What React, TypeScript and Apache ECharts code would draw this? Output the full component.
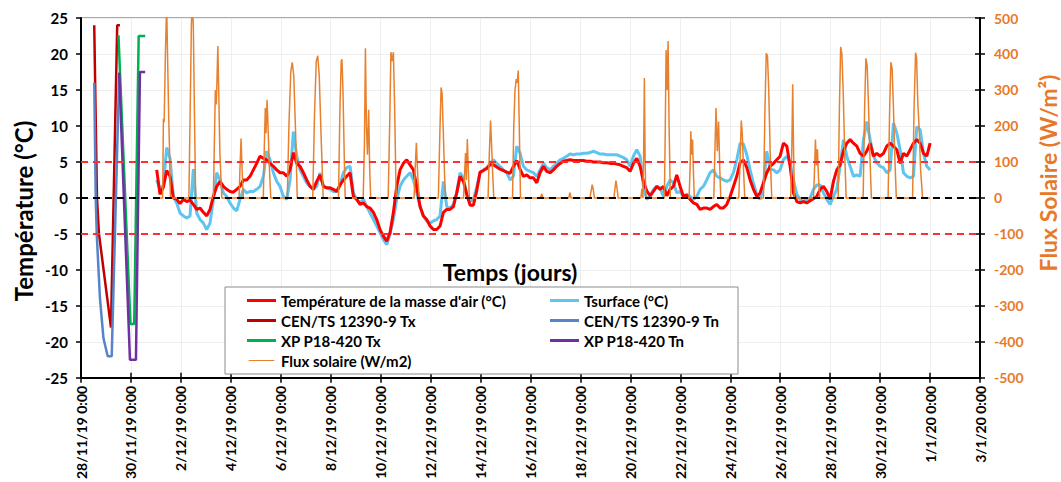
import React, { useEffect, useRef } from "react";
import * as echarts from "echarts";

// x values are days after 28/11/19 0:00
const X_TICK_LABELS = [
  "28/11/19 0:00", "30/11/19 0:00", "2/12/19 0:00", "4/12/19 0:00", "6/12/19 0:00",
  "8/12/19 0:00", "10/12/19 0:00", "12/12/19 0:00", "14/12/19 0:00", "16/12/19 0:00",
  "18/12/19 0:00", "20/12/19 0:00", "22/12/19 0:00", "24/12/19 0:00", "26/12/19 0:00",
  "28/12/19 0:00", "30/12/19 0:00", "1/1/20 0:00", "3/1/20 0:00",
];

const SERIES_NAMES = [
  "Température de la masse d'air (°C)",
  "Tsurface (°C)",
  "CEN/TS 12390-9 Tx",
  "CEN/TS 12390-9 Tn",
  "XP P18-420 Tx",
  "XP P18-420 Tn",
  "Flux solaire (W/m2)",
];

// measured temperatures: first reading at T_START (days), one reading every T_STEP days
const T_START = 3.031;
const T_STEP = 0.1335;

const AIR_TEMP = [
  3.9, 0.5, 1.5, 3.8, 3.0, 0.0, -0.2, -0.8, -0.2, -0.5,
  -0.3, -0.9, -1.6, -1.4, -2.0, -2.5, -1.6, 0.2, 1.6, 2.3,
  1.6, 1.2, 0.9, 0.8, 1.2, 1.6, 2.5, 2.5, 3.0, 3.9,
  4.8, 5.8, 5.5, 5.3, 4.8, 4.4, 3.9, 3.5, 3.5, 3.0,
  3.9, 6.3, 4.8, 4.4, 3.5, 2.5, 1.6, 1.2, 2.3, 3.2,
  1.6, 1.4, 1.4, 1.2, 0.9, 1.8, 2.5, 3.0, 3.5, 0.2,
  -0.2, -0.9, -0.7, -1.2, -1.4, -2.0, -3.0, -4.4, -5.3, -6.0,
  -4.8, -2.0, 1.6, 3.9, 4.8, 5.3, 4.6, 3.9, 1.6, -1.2,
  -2.5, -3.0, -3.9, -4.4, -4.4, -3.9, -2.0, -1.6, -1.6, -1.2,
  0.7, 3.0, 2.3, 0.5, -1.0, -1.0, 1.0, 3.6, 3.8, 4.1,
  4.6, 4.6, 4.3, 4.0, 3.8, 3.6, 3.4, 4.4, 5.2, 4.0,
  3.0, 3.2, 2.8, 2.8, 2.1, 3.5, 4.4, 3.7, 3.5, 3.9,
  4.4, 4.8, 5.1, 5.2, 5.3, 5.2, 5.2, 5.2, 5.2, 5.1,
  5.1, 5.0, 5.0, 5.0, 4.9, 4.9, 4.8, 4.8, 4.7, 4.6,
  4.4, 4.2, 3.7, 4.8, 5.5, 4.4, 2.3, 1.0, 0.3, 0.9,
  1.6, 1.2, 1.6, 0.3, 1.2, 1.6, 3.2, 1.6, 0.2, 0.4,
  -0.2, -0.7, -0.9, -1.6, -1.4, -1.4, -1.6, -1.2, -0.9, -1.4,
  -1.4, -0.9, 0.2, 1.6, 3.0, 4.9, 5.3, 4.2, 2.5, 1.2,
  0.2, 0.7, 2.1, 3.5, 4.4, 4.8, 5.3, 5.8, 7.6, 7.2,
  4.4, 0.7, -0.5, -0.7, -0.5, -0.7, -0.4, -0.1, 0.2, 1.2,
  1.6, 0.9, -0.2, 2.3, 3.9, 4.6, 6.5, 7.6, 8.1, 7.6,
  7.2, 6.2, 5.8, 6.5, 7.6, 5.8, 6.2, 5.8, 6.2, 7.2,
  7.6, 7.2, 6.7, 4.8, 6.2, 5.8, 6.7, 7.6, 8.1, 7.6,
  6.2, 5.8, 7.6,
];

const SURFACE_TEMP = [
  2.5, 1.2, 1.8, 7.0, 5.5, 0.2, -0.7, -2.1, -2.5, -2.8,
  -2.5, 4.0, -2.1, -3.0, -3.5, -4.4, -3.5, -0.2, 3.5, 2.5,
  0.7, 0.2, -0.7, -1.4, -1.8, -0.2, 1.2, 0.7, 0.9, 0.9,
  1.2, 1.6, 3.0, 6.5, 5.3, 3.5, 2.3, 1.6, 0.2, -0.2,
  2.5, 9.2, 5.8, 3.9, 3.0, 2.1, 1.6, 1.2, 1.6, 3.5,
  1.6, 1.4, 1.2, 0.9, 0.9, 1.8, 3.5, 4.2, 4.4, 0.7,
  -0.2, -0.7, -0.2, -1.2, -2.1, -3.0, -3.9, -4.8, -5.8, -6.5,
  -5.0, -3.0, -0.2, 1.6, 2.5, 3.0, 3.5, 2.5, 0.7, -1.2,
  -2.5, -3.2, -3.5, -3.2, -3.0, -2.5, 2.3, -1.2, -1.4, -0.9,
  0.7, 3.5, 2.8, 0.5, -0.5, -0.2, 1.5, 3.5, 3.9, 4.2,
  4.8, 5.3, 4.8, 4.4, 3.9, 3.5, 2.5, 3.0, 7.2, 6.2,
  4.4, 3.9, 3.7, 3.5, 3.0, 3.9, 4.8, 4.2, 3.9, 4.4,
  4.8, 5.3, 5.5, 5.8, 6.1, 6.0, 6.1, 6.1, 6.2, 6.2,
  6.3, 6.5, 6.3, 6.1, 6.1, 6.0, 6.0, 6.0, 6.0, 5.8,
  5.6, 5.3, 4.4, 5.8, 6.7, 5.8, 1.6, -0.2, 0.2, 1.2,
  1.6, 1.4, 0.2, 1.6, 2.5, 2.1, 0.7, 0.9, 0.2, 0.5,
  0.2, -0.2, 0.2, 1.2, 1.6, 2.5, 3.5, 3.9, 3.0, 2.8,
  2.5, 2.3, 2.5, 3.5, 5.3, 7.6, 7.5, 6.0, 3.9, 2.0,
  0.5, -0.2, 1.6, 6.5, 4.0, 3.9, 3.5, 3.9, 5.3, 5.8,
  4.9, 2.5, 0.5, -0.2, -0.5, -0.2, 0.0, 1.2, 1.8, 1.8,
  0.7, -0.2, -0.9, 0.2, 1.2, 4.4, 8.1, 5.8, 4.4, 3.0,
  3.2, 3.0, 8.1, 10.6, 8.1, 5.8, 4.9, 4.4, 4.2, 3.5,
  3.9, 10.4, 9.0, 6.7, 3.5, 3.0, 2.8, 3.0, 9.9, 9.5,
  6.2, 4.4, 3.9,
];

// test cycles: [day, °C]
const CEN_TX = [[0.53, 24], [0.64, 0], [0.72, -5], [1.09, -15], [1.2, -18], [1.45, 24], [1.56, 24]];
const CEN_TN = [[0.53, 16], [0.59, 0], [0.63, -5], [0.76, -14], [0.9, -19.5], [1.07, -22], [1.23, -22], [1.53, 17.4]];
const XP_TX = [[1.5, 22.6], [1.98, -17.5], [2.13, -17.5], [2.31, 22.5], [2.57, 22.5]];
const XP_TN = [[1.53, 17.4], [1.96, -22.5], [2.2, -22.5], [2.36, 17.5], [2.57, 17.5]];

// solar flux: [day, W/m2]
const FLUX = [
  [3.03, 0],
  [3.27, 0], [3.3, 220], [3.33, 210], [3.38, 400], [3.43, 540], [3.47, 380], [3.51, 230], [3.54, 150], [3.58, 0],
  [4.32, 0], [4.38, 280], [4.42, 480], [4.46, 560], [4.5, 470], [4.54, 250], [4.59, 0],
  [5.3, 0], [5.34, 150], [5.38, 300], [5.42, 260], [5.48, 422], [5.52, 280], [5.56, 130], [5.6, 60], [5.64, 0],
  [6.33, 0], [6.37, 90], [6.41, 165], [6.45, 80], [6.5, 0],
  [7.3, 0], [7.34, 140], [7.38, 250], [7.41, 180], [7.45, 273], [7.49, 200], [7.54, 90], [7.6, 0],
  [8.26, 0], [8.33, 210], [8.4, 350], [8.46, 377], [8.52, 340], [8.59, 190], [8.66, 0],
  [9.28, 0], [9.35, 230], [9.42, 380], [9.48, 395], [9.54, 340], [9.62, 160], [9.7, 0],
  [10.31, 0], [10.37, 250], [10.42, 380], [10.45, 385], [10.49, 300], [10.54, 120], [10.58, 0],
  [11.3, 0], [11.35, 150], [11.39, 416], [11.43, 200], [11.47, 120], [11.52, 245], [11.56, 80], [11.6, 0],
  [12.3, 0], [12.36, 200], [12.41, 405], [12.46, 380], [12.51, 405], [12.56, 250], [12.62, 0],
  [13.34, 0], [13.38, 80], [13.43, 153], [13.46, 100], [13.5, 40], [13.55, 0],
  [14.31, 0], [14.37, 180], [14.42, 307], [14.46, 290], [14.51, 180], [14.56, 60], [14.6, 0],
  [15.32, 0], [15.36, 70], [15.4, 125], [15.43, 50], [15.47, 164], [15.51, 80], [15.55, 0],
  [16.3, 0], [16.35, 120], [16.4, 215], [16.44, 150], [16.49, 60], [16.53, 0],
  [17.28, 0], [17.33, 200], [17.38, 300], [17.43, 330], [17.47, 320], [17.51, 354], [17.55, 200], [17.6, 0],
  [18.4, 0], [18.45, 12], [18.5, 0],
  [19.53, 0], [19.58, 15], [19.62, 0],
  [20.38, 0], [20.43, 20], [20.47, 37], [20.51, 25], [20.56, 0],
  [21.34, 0], [21.38, 25], [21.42, 48], [21.46, 30], [21.51, 0],
  [22.42, 0], [22.46, 25], [22.5, 0], [22.53, 120], [22.56, 333], [22.59, 100], [22.62, 0],
  [23.36, 0], [23.39, 150], [23.43, 411], [23.47, 300], [23.51, 436], [23.55, 200], [23.6, 0],
  [24.35, 0], [24.39, 80], [24.42, 185], [24.45, 120], [24.49, 162], [24.52, 80], [24.56, 0],
  [25.34, 0], [25.38, 120], [25.43, 250], [25.48, 130], [25.53, 212], [25.58, 80], [25.62, 0],
  [26.34, 0], [26.39, 100], [26.44, 215], [26.48, 180], [26.53, 80], [26.58, 0],
  [27.33, 0], [27.39, 250], [27.44, 402], [27.49, 395], [27.54, 300], [27.6, 120], [27.66, 0],
  [28.42, 0], [28.46, 120], [28.5, 316], [28.53, 150], [28.57, 0],
  [29.33, 0], [29.37, 70], [29.41, 162], [29.45, 90], [29.49, 135], [29.53, 60], [29.58, 0],
  [30.32, 0], [30.37, 250], [30.42, 420], [30.47, 400], [30.52, 300], [30.58, 130], [30.64, 0],
  [31.32, 0], [31.38, 250], [31.43, 388], [31.48, 370], [31.53, 270], [31.59, 120], [31.65, 0],
  [32.32, 0], [32.38, 240], [32.43, 377], [32.48, 360], [32.53, 260], [32.59, 110], [32.65, 0],
  [33.3, 0], [33.36, 250], [33.42, 404], [33.46, 390], [33.51, 263], [33.56, 200], [33.62, 80], [33.7, 0],
  [34.0, 0],
];

// reference levels (°C)
const THRESHOLDS = [5, 0, -5];

const FONT = "Lato, 'Noto Sans', sans-serif";
const ORANGE = "#E8792A";
const COLORS = ["#FF0000", "#5EC4F0", "#C00000", "#5585C8", "#00B050", "#7030A0", "#E8812E"];
const THIN_ICON = "path://M0,1.1h30v1.3h-30z M0,0h0.01v0.01h-0.01z M0,3.5h0.01v0.01h-0.01z";

export default function App() {
  const ref = useRef<HTMLDivElement>(null);

  useEffect(() => {
    document.body.style.margin = "0";
    const chart = echarts.init(ref.current!, null, { renderer: "svg" });

    const sampled = (vals: number[]) => vals.map((v, i) => [T_START + i * T_STEP, v]);

    const lineSeries = (name: string, data: any[], color: string, width: number, z: number, yAxisIndex = 0) => ({
      name,
      type: "line",
      data,
      yAxisIndex,
      color,
      showSymbol: false,
      symbol: "none",
      z,
      lineStyle: { color, width },
      emphasis: { disabled: true },
    });

    const thresholdSeries = THRESHOLDS.map((t) => ({
      name: "seuil " + t,
      type: "line",
      data: [[0, t], [36, t]],
      showSymbol: false,
      symbol: "none",
      z: 5,
      silent: true,
      lineStyle: { color: t === 0 ? "#000000" : "#FF2D2D", width: 2, type: [7, 5] },
    }));

    const legendText = { fontSize: 15, fontWeight: "bold", color: "#000", fontFamily: FONT };

    const option: any = {
      animation: false,
      backgroundColor: "#ffffff",
      grid: { left: 81, right: 81, top: 18, bottom: 103, show: true, borderColor: "#555", borderWidth: 1 },
      xAxis: [
        {
          type: "value", min: 0, max: 36, interval: 2, position: "bottom",
          axisLine: { onZero: false, lineStyle: { color: "#000", width: 2 } },
          axisTick: { show: true, length: 5, lineStyle: { color: "#000", width: 1.5 } },
          axisLabel: {
            rotate: 90, margin: 8, fontSize: 14, fontWeight: "bold", color: "#000", fontFamily: FONT,
            formatter: (v: number) => X_TICK_LABELS[Math.round(v / 2)] ?? "",
          },
          splitLine: { show: true, lineStyle: { color: "#eeeeee", width: 1 } },
        },
        {
          type: "value", min: 0, max: 36, interval: 2, position: "bottom",
          axisLine: { show: false, onZero: false },
          axisTick: { show: true, inside: true, length: 5, lineStyle: { color: "#000", width: 1.5 } },
          axisLabel: { show: false },
          splitLine: { show: false },
        },
      ],
      yAxis: [
        {
          type: "value", min: -25, max: 25, interval: 5, position: "left",
          axisLine: { show: true, onZero: false, lineStyle: { color: "#000", width: 2 } },
          axisTick: { show: true, length: 5, lineStyle: { color: "#000", width: 1.5 } },
          axisLabel: { margin: 13, fontSize: 15, fontWeight: "bold", color: "#000", fontFamily: FONT },
          splitLine: { show: true, lineStyle: { color: "#eeeeee", width: 1 } },
        },
        {
          type: "value", min: -500, max: 500, interval: 100, position: "right",
          axisLine: { show: true, onZero: false, lineStyle: { color: "#000", width: 2 } },
          axisTick: { show: true, length: 5, lineStyle: { color: "#000", width: 1.5 } },
          axisLabel: { margin: 14, fontSize: 14, fontWeight: "bold", color: ORANGE, fontFamily: FONT },
          splitLine: { show: false },
        },
        {
          type: "value", min: -500, max: 500, interval: 100, position: "right",
          axisLine: { show: false, onZero: false },
          axisTick: { show: true, inside: true, length: 5, lineStyle: { color: "#000", width: 1.5 } },
          axisLabel: { show: false },
          splitLine: { show: false },
        },
      ],
      legend: [
        {
          orient: "vertical", left: 242, top: 288, itemGap: 5, itemWidth: 29, itemHeight: 3, icon: "rect",
          selectedMode: false, z: 6, textStyle: legendText,
          data: [SERIES_NAMES[0], SERIES_NAMES[2], SERIES_NAMES[4], { name: SERIES_NAMES[6], icon: THIN_ICON }],
        },
        {
          orient: "vertical", left: 545, top: 288, itemGap: 5, itemWidth: 29, itemHeight: 3, icon: "rect",
          selectedMode: false, z: 6, textStyle: legendText,
          data: [SERIES_NAMES[1], SERIES_NAMES[3], SERIES_NAMES[5]],
        },
      ],
      graphic: [
        {
          type: "rect", z: 5, silent: true,
          shape: { x: 225, y: 287, width: 513, height: 87 },
          style: { fill: "#ffffff", stroke: "#8c8c8c", lineWidth: 1 },
        },
        {
          type: "text", x: 23, y: 211, rotation: Math.PI / 2, z: 6,
          style: { text: "Température (°C)", font: `bold 24px ${FONT}`, fill: "#000", textAlign: "center", textVerticalAlign: "middle" },
        },
        {
          type: "text", x: 1048, y: 173, rotation: Math.PI / 2, z: 6,
          style: { text: "Flux Solaire (W/m²)", font: `bold 23px ${FONT}`, fill: ORANGE, textAlign: "center", textVerticalAlign: "middle" },
        },
        {
          type: "text", x: 510, y: 272, z: 6,
          style: { text: "Temps (jours)", font: `bold 23px ${FONT}`, fill: "#000", textAlign: "center", textVerticalAlign: "middle" },
        },
      ],
      series: [
        lineSeries(SERIES_NAMES[0], sampled(AIR_TEMP), COLORS[0], 3, 3),
        lineSeries(SERIES_NAMES[1], sampled(SURFACE_TEMP), COLORS[1], 3, 2),
        lineSeries(SERIES_NAMES[2], CEN_TX, COLORS[2], 2.5, 3),
        lineSeries(SERIES_NAMES[3], CEN_TN, COLORS[3], 2.5, 3),
        lineSeries(SERIES_NAMES[4], XP_TX, COLORS[4], 2.5, 3),
        lineSeries(SERIES_NAMES[5], XP_TN, COLORS[5], 2.5, 3),
        lineSeries(SERIES_NAMES[6], FLUX, COLORS[6], 1.5, 4, 1),
        ...thresholdSeries,
      ],
    };

    chart.setOption(option);
    return () => chart.dispose();
  }, []);

  return <div ref={ref} style={{ width: 1061, height: 482 }} />;
}
